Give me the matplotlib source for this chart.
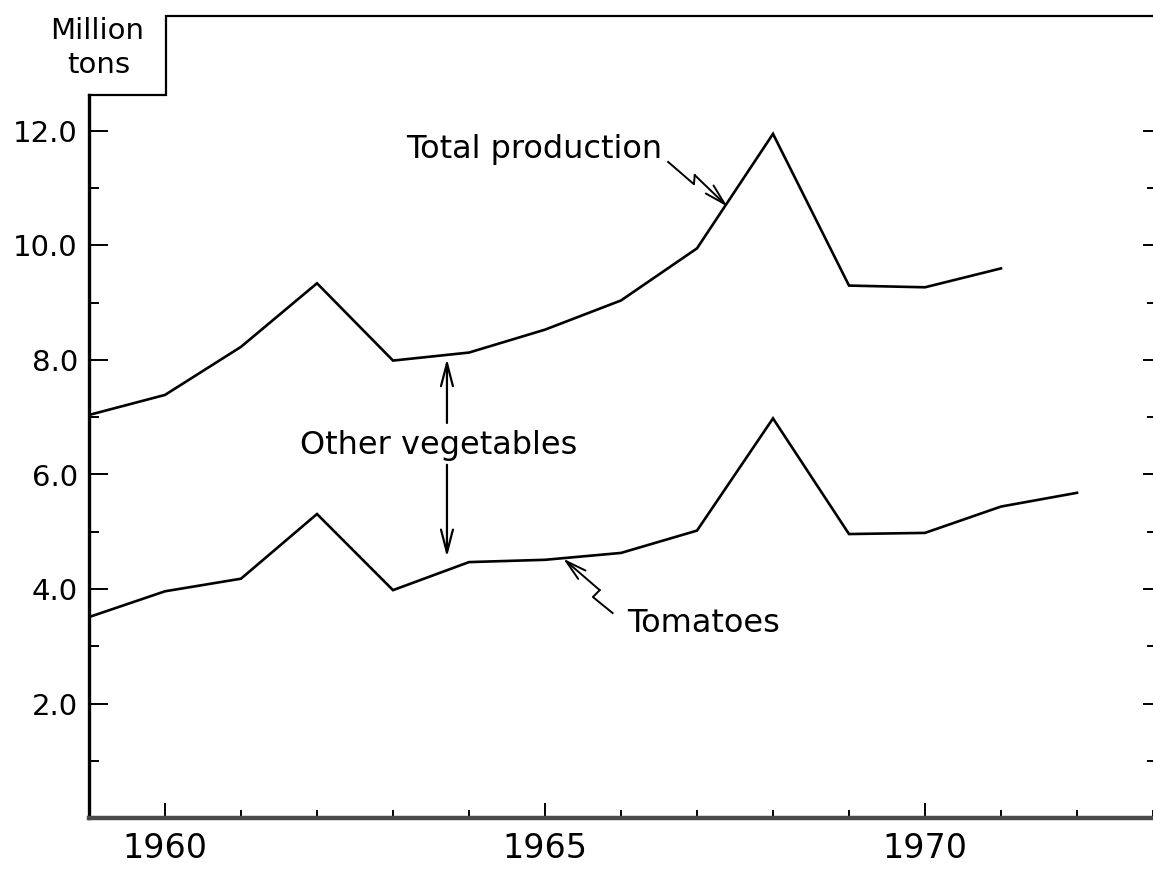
import matplotlib
matplotlib.use("Agg")
import matplotlib.pyplot as plt
from matplotlib import font_manager
from matplotlib.patches import FancyArrowPatch

# ---- data ----
years_total = [1959, 1960, 1961, 1962, 1963, 1964, 1965, 1966, 1967, 1968, 1969, 1970, 1971]
total_production = [7.04, 7.39, 8.23, 9.34, 7.99, 8.13, 8.53, 9.04, 9.95, 11.95, 9.30, 9.27, 9.60]
years_tomato = [1959, 1960, 1961, 1962, 1963, 1964, 1965, 1966, 1967, 1968, 1969, 1970, 1971, 1972]
tomatoes = [3.51, 3.96, 4.18, 5.31, 3.98, 4.47, 4.51, 4.63, 5.02, 6.98, 4.96, 4.98, 5.44, 5.68]
x_major = [1960, 1965, 1970]
x_major_labels = ["1960", "1965", "1970"]
x_minor = list(range(1959, 1974))
y_major = [2, 4, 6, 8, 10, 12]
y_major_labels = ["2.0", "4.0", "6.0", "8.0", "10.0", "12.0"]
y_minor = [1, 3, 5, 7, 9, 11]

names = {f.name for f in font_manager.fontManager.ttflist}
narrow = "Liberation Sans Narrow" if "Liberation Sans Narrow" in names else "DejaVu Sans"
main_font = "DejaVu Sans"
plt.rcParams["font.family"] = [main_font]

W, H = 1153, 871
fig = plt.figure(figsize=(W / 100, H / 100), dpi=100)
ax = fig.add_axes([89 / W, 53 / H, (W - 89) / W, 801.5 / H])
ax.set_xlim(1959, 1973)
ax.set_ylim(0, 14)

ax.plot(years_total, total_production, color="black", lw=1.9, solid_joinstyle="miter")
ax.plot(years_tomato, tomatoes, color="black", lw=1.9, solid_joinstyle="miter")

# spines / frame
for s in ["top", "right"]:
    ax.spines[s].set_visible(False)
ax.spines["left"].set_linewidth(2.4)
ax.spines["left"].set_bounds(0, 12.63)
ax.spines["bottom"].set_linewidth(3.2)
ax.spines["bottom"].set_color("#4a4a4a")
nx = 77 / 1064
ny = 12.63 / 14
ax.plot([0, nx, nx, 1.0], [ny, ny, 1.0, 1.0], transform=ax.transAxes,
        color="black", lw=1.6, clip_on=False, solid_joinstyle="miter")

# y ticks
ax.set_yticks(y_major)
ax.set_yticklabels(y_major_labels)
ax.set_yticks(y_minor, minor=True)
ax.tick_params(axis="y", which="major", direction="in", length=14, width=1.4,
               labelsize=21, pad=8, left=True, right=False)
ax.tick_params(axis="y", which="minor", direction="in", length=7, width=1.4,
               left=True, right=False)

# x ticks
ax.set_xticks(x_major)
ax.set_xticklabels(x_major_labels, fontfamily=narrow)
ax.set_xticks(x_minor, minor=True)
ax.tick_params(axis="x", which="major", direction="in", length=11, width=1.4,
               labelsize=30 if narrow != "DejaVu Sans" else 24, pad=10)
ax.tick_params(axis="x", which="minor", direction="in", length=6, width=1.4)

# right-hand ticks
ax2 = ax.twinx()
ax2.set_ylim(0, 14)
for s in ax2.spines.values():
    s.set_visible(False)
ax2.set_yticks(y_major)
ax2.set_yticks(y_minor, minor=True)
ax2.tick_params(axis="y", which="major", direction="in", length=7, width=1.4,
                labelright=False, right=True)
ax2.tick_params(axis="y", which="minor", direction="in", length=4, width=1.4,
                right=True)

# unit label
fig.text(97 / W, 1 - 39 / H, "Million", ha="center", va="baseline", fontsize=21)
fig.text(99 / W, 1 - 73 / H, "tons", ha="center", va="baseline", fontsize=21)

fs = 23
# Total production annotation
ax.text(1966.54, 11.53, "Total production", ha="right", va="baseline", fontsize=fs)
ax.plot([1966.62, 1966.96, 1966.97], [11.46, 11.07, 11.23], color="black", lw=1.4)
ax.add_patch(FancyArrowPatch((1966.97, 11.23), (1967.40, 10.68),
                             arrowstyle="->,head_length=1.5,head_width=0.4",
                             mutation_scale=10, color="black", lw=1.4,
                             shrinkA=0, shrinkB=0))

# Other vegetables annotation
ax.text(1961.78, 6.36, "Other vegetables", ha="left", va="baseline", fontsize=fs)
ax.add_patch(FancyArrowPatch((1963.71, 6.90), (1963.71, 8.02),
                             arrowstyle="->,head_length=1.65,head_width=0.43",
                             mutation_scale=10, color="black", lw=1.6,
                             shrinkA=0, shrinkB=0))
ax.add_patch(FancyArrowPatch((1963.71, 6.17), (1963.71, 4.56),
                             arrowstyle="->,head_length=1.65,head_width=0.43",
                             mutation_scale=10, color="black", lw=1.6,
                             shrinkA=0, shrinkB=0))

# Tomatoes annotation
ax.text(1966.08, 3.25, "Tomatoes", ha="left", va="baseline", fontsize=fs)
ax.plot([1965.89, 1965.63, 1965.72], [3.58, 3.86, 3.98], color="black", lw=1.4)
ax.add_patch(FancyArrowPatch((1965.72, 3.98), (1965.24, 4.53),
                             arrowstyle="->,head_length=1.5,head_width=0.4",
                             mutation_scale=10, color="black", lw=1.4,
                             shrinkA=0, shrinkB=0))

fig.savefig("out.png", dpi=100)
